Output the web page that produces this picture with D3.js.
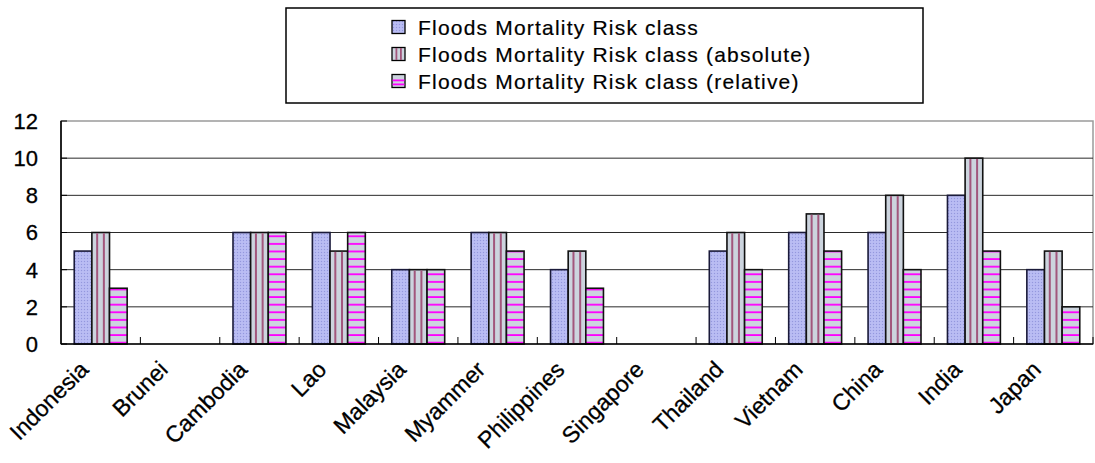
<!DOCTYPE html>
<html><head><meta charset="utf-8">
<script src="https://cdn.jsdelivr.net/npm/d3@7"></script>
<style>
html,body{margin:0;padding:0;background:#fff;}
svg{display:block;font-family:"Liberation Sans",Arial,sans-serif;}
</style></head>
<body><svg id="chart" width="1095" height="463"></svg>
<script>
const categories = ["Indonesia","Brunei","Cambodia","Lao","Malaysia","Myammer","Philippines","Singapore","Thailand","Vietnam","China","India","Japan"];
const seriesNames = ["Floods Mortality Risk class","Floods Mortality Risk class (absolute)","Floods Mortality Risk class (relative)"];
const riskClass    = [5, null, 6, 6, 4, 6, 4, null, 5, 6, 6, 8, 4];
const riskAbsolute = [6, null, 6, 5, 4, 6, 5, null, 6, 7, 8, 10, 5];
const riskRelative = [3, null, 6, 6, 4, 5, 3, null, 4, 5, 4, 5, 2];
const yTicks = [0, 2, 4, 6, 8, 10, 12];

const seriesValues = [riskClass, riskAbsolute, riskRelative];
const svg = d3.select("#chart");
const L = 61, R = 1093, T = 121, B = 344;

const x = d3.scaleBand().domain(categories).range([L, R]).padding(0);
const xs = d3.scaleBand().domain([0,1,2]).range([0, x.bandwidth()]).paddingInner(0).paddingOuter(0.75);
const y = d3.scaleLinear().domain([0, 12]).range([B, T]);

const defs = svg.append("defs");
const p1 = defs.append("pattern").attr("id","p1").attr("patternUnits","userSpaceOnUse").attr("width",3).attr("height",3);
p1.append("rect").attr("width",3).attr("height",3).attr("fill","#b6b9f2");
p1.append("rect").attr("x",0).attr("y",0).attr("width",1).attr("height",1).attr("fill","#9498dc");
p1.append("rect").attr("x",1.5).attr("y",1.5).attr("width",1).attr("height",1).attr("fill","#c8cbf6");
const sp = 7.6;
const p3 = defs.append("pattern").attr("id","p3").attr("patternUnits","userSpaceOnUse").attr("width",10).attr("height",sp)
  .attr("patternTransform", `translate(0,${B - 0.4})`);
p3.append("rect").attr("width",10).attr("height",sp).attr("fill","#ccd4de");
p3.append("rect").attr("x",0).attr("y",sp-1.8).attr("width",10).attr("height",1.8).attr("fill","#ff00ff");

svg.append("rect").attr("x",L).attr("y",T).attr("width",R-L).attr("height",B-T)
  .attr("fill","none").attr("stroke","#9a9a9a").attr("stroke-width",1.5);

svg.append("g").selectAll("line").data(yTicks.filter(d => d > 0 && d < 12)).join("line")
  .attr("x1",L).attr("x2",R).attr("y1",d=>y(d)).attr("y2",d=>y(d))
  .attr("stroke","#2a2a2a").attr("stroke-width",1);

const fills = ["url(#p1)","#ccd4de","url(#p3)"];
const strokes = ["#1a1a3a","#111","#111"];
seriesValues.forEach((vals, si) => {
  const g = svg.append("g");
  const data = categories.map((c,i)=>({c, v: vals[i]})).filter(d => d.v != null);
  g.selectAll("rect").data(data).join("rect")
    .attr("x", d => x(d.c) + xs(si))
    .attr("y", d => y(d.v))
    .attr("width", xs.bandwidth())
    .attr("height", d => y(0) - y(d.v))
    .attr("fill", fills[si])
    .attr("stroke", strokes[si]).attr("stroke-width", 1.6);
  if (si === 1) {
    [0.3, 0.68].forEach(f => {
      g.append("g").selectAll("rect").data(data).join("rect")
        .attr("x", d => x(d.c) + xs(si) + xs.bandwidth()*f - 1)
        .attr("y", d => y(d.v) + 0.8)
        .attr("width", 2)
        .attr("height", d => y(0) - y(d.v) - 1.6)
        .attr("fill", "#a2567c");
    });
  }
});

svg.append("line").attr("x1",L).attr("x2",L).attr("y1",T).attr("y2",B).attr("stroke","#000").attr("stroke-width",1.6);
svg.append("line").attr("x1",L).attr("x2",R).attr("y1",B).attr("y2",B).attr("stroke","#000").attr("stroke-width",1.6);
svg.append("g").selectAll("line").data(yTicks).join("line")
  .attr("x1",L).attr("x2",L+6).attr("y1",d=>y(d)).attr("y2",d=>y(d)).attr("stroke","#000").attr("stroke-width",1);
svg.append("g").selectAll("line").data(categories.slice(1)).join("line")
  .attr("x1",d=>x(d)).attr("x2",d=>x(d)).attr("y1",B-7).attr("y2",B).attr("stroke","#000").attr("stroke-width",1);
svg.append("line").attr("x1",R).attr("x2",R).attr("y1",B-7).attr("y2",B).attr("stroke","#000").attr("stroke-width",1);

svg.append("g").selectAll("text").data(yTicks).join("text")
  .attr("x", 38).attr("y", d => y(d)).attr("dy","0.36em")
  .attr("text-anchor","end").attr("font-size",22).attr("fill","#000")
  .attr("stroke","#000").attr("stroke-width",0.3)
  .text(d => d);

svg.append("g").selectAll("text").data(categories).join("text")
  .attr("transform", d => `translate(${x(d) + x.bandwidth()/2 - 11},${B + 27}) rotate(-45)`)
  .attr("text-anchor","end").attr("font-size",23).attr("fill","#000")
  .attr("stroke","#000").attr("stroke-width",0.3)
  .text(d => d);

const lg = svg.append("g");
lg.append("rect").attr("x",286).attr("y",8).attr("width",637).attr("height",95)
  .attr("fill","#fff").attr("stroke","#000").attr("stroke-width",1.5);
const legFill = ["url(#p1)","#ccd4de","#ccd4de"];
seriesNames.forEach((name, i) => {
  const cy = 27 + i*27;
  const gx = 392;
  lg.append("rect").attr("x",gx).attr("y",cy-6.5).attr("width",13).attr("height",13)
    .attr("fill", legFill[i]).attr("stroke","#000").attr("stroke-width",1.3);
  if (i === 1) {
    [gx+3.5, gx+8].forEach(sx => lg.append("rect").attr("x",sx).attr("y",cy-6).attr("width",1.8).attr("height",12).attr("fill","#a2567c"));
  }
  if (i === 2) {
    [cy-1.5, cy+2.5].forEach(sy => lg.append("rect").attr("x",gx+0.6).attr("y",sy).attr("width",11.8).attr("height",1.8).attr("fill","#ff00ff"));
  }
  lg.append("text").attr("x",418).attr("y",cy).attr("dy","0.36em")
    .attr("font-size",21).attr("letter-spacing","1.2px").attr("fill","#000")
    .attr("stroke","#000").attr("stroke-width",0.2).text(name);
});
</script></body></html>
